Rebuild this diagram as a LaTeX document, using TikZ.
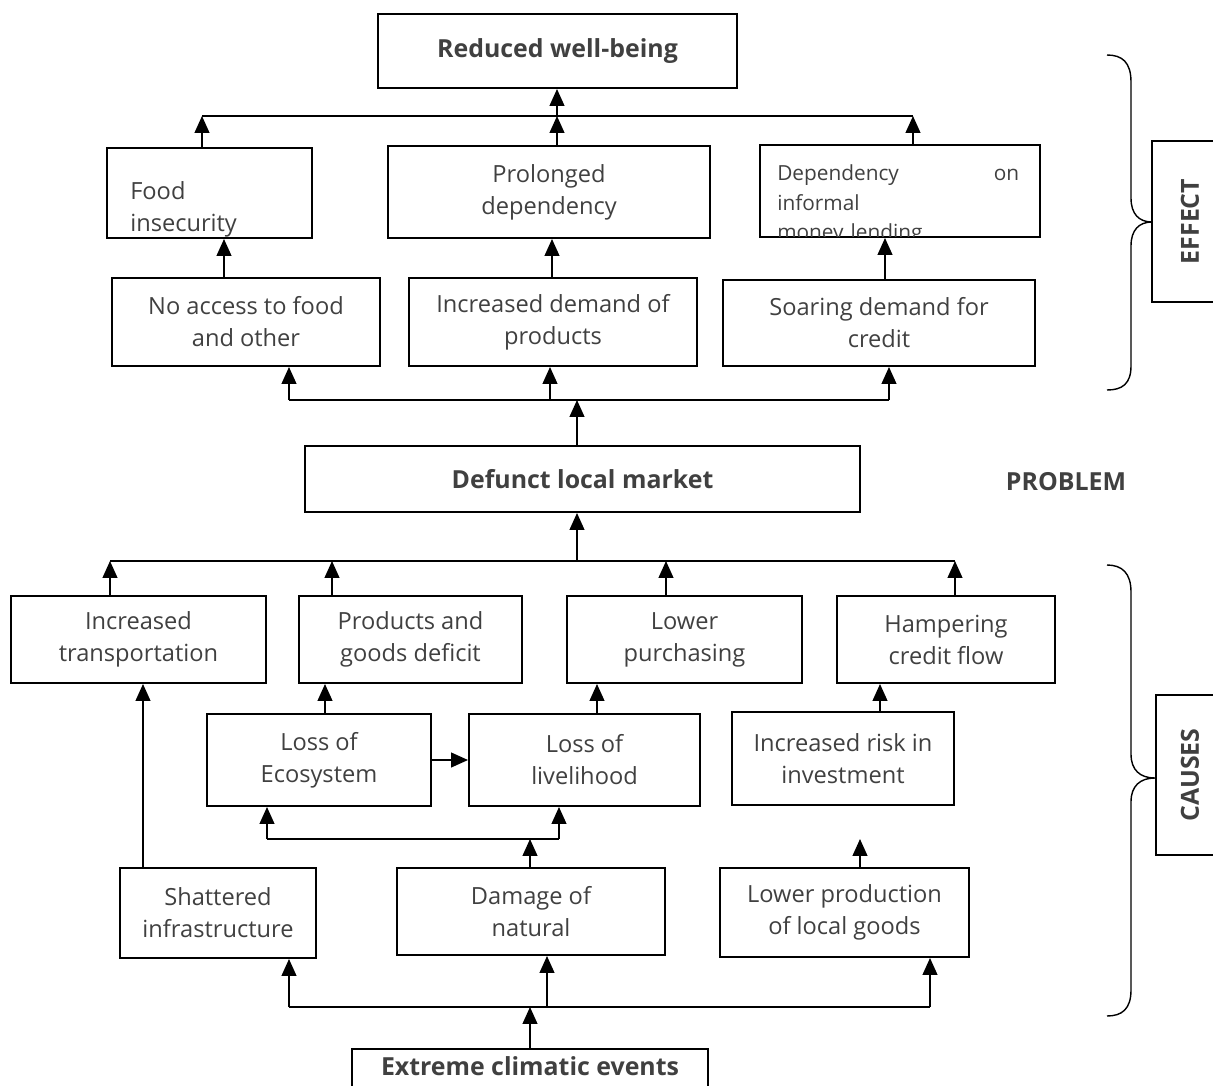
\documentclass[tikz,border=0pt]{standalone}
\usepackage{fontspec}
\setmainfont{Open Sans}
\usetikzlibrary{arrows.meta}
\definecolor{inkgray}{HTML}{404040}
\newcommand{\ux}{0.025cm}

\begin{document}
\begin{tikzpicture}[x=0.025cm, y=-0.025cm]
    \tikzstyle{box}=[draw=black, line width=1.4pt, text=inkgray, align=center, inner sep=0pt, font=\fontsize{16.8}{22.7}\selectfont]
    \tikzstyle{title-box}=[box, font=\fontsize{17.7}{22.7}\selectfont\bfseries]
    \tikzstyle{side-box}=[title-box, rotate=90]
    \tikzstyle{loose-text}=[text=inkgray, align=left, anchor=west, inner sep=0pt]
    \tikzstyle{flow}=[-{Triangle[length=12pt, width=10.5pt]}, line width=1.2pt]
    \tikzstyle{bus}=[line width=1.2pt]
    \tikzstyle{brace}=[line width=1pt]
    % \draw[help lines, step=50] (0,0) grid (1213,1086);
    \useasboundingbox (0,0) rectangle (1213,1086);

    % effects
    \node[title-box, minimum width=359*\ux, minimum height=74*\ux] (wellbeing) at (557.5,51) {Reduced well-being};
    \node[box, minimum width=205*\ux, minimum height=90*\ux] (food) at (209.5,193) {};
    \node[box, minimum width=322*\ux, minimum height=92*\ux] (prolonged) at (549,192) {Prolonged\\dependency};
    \node[box, minimum width=280*\ux, minimum height=92*\ux] (lending) at (900,191) {};
    \begin{scope}
        \clip (food.north west) rectangle ([yshift=1pt]food.south east);
        \node[loose-text, font=\fontsize{16.8}{22.7}\selectfont] (food-text) at (130,209) {Food\\insecurity};
    \end{scope}
    \begin{scope}
        \clip (lending.north west) rectangle ([yshift=1pt]lending.south east);
        \node[loose-text, text width=172pt, font=\fontsize{14.8}{21}\selectfont] (lending-text) at (777,205) {Dependency\hfill on\\informal\\money lending};
    \end{scope}
    \node[box, minimum width=268*\ux, minimum height=88*\ux] (noaccess) at (246,322) {No access to food\\and other};
    \node[box, minimum width=288*\ux, minimum height=88*\ux] (demand) at (553,322) {Increased demand of\\products};
    \node[box, minimum width=312*\ux, minimum height=86*\ux] (credit) at (879,323) {Soaring demand for\\credit};

    % problem
    \node[title-box, minimum width=555*\ux, minimum height=66*\ux] (market) at (582.5,479) {Defunct local market};
    \node[title-box, draw=none] (problem) at (1066,482) {PROBLEM};

    % causes
    \node[box, minimum width=255*\ux, minimum height=87*\ux] (transport) at (138.5,639.5) {Increased\\transportation};
    \node[box, minimum width=223*\ux, minimum height=87*\ux] (deficit) at (410.5,639.5) {Products and\\goods deficit};
    \node[box, minimum width=235*\ux, minimum height=87*\ux] (purchasing) at (684.5,639.5) {Lower\\purchasing};
    \node[box, minimum width=218*\ux, minimum height=87*\ux] (creditflow) at (946,639.5) {Hampering\\credit flow};
    \node[box, minimum width=224*\ux, minimum height=92*\ux] (ecosystem) at (319,760) {Loss of\\Ecosystem};
    \node[box, minimum width=231*\ux, minimum height=92*\ux] (livelihood) at (584.5,760) {Loss of\\livelihood};
    \node[box, minimum width=222*\ux, minimum height=93*\ux] (risk) at (843,758.5) {Increased risk in\\investment};
    \node[box, minimum width=196*\ux, minimum height=90*\ux] (infra) at (218,913) {Shattered\\infrastructure};
    \node[box, minimum width=268*\ux, minimum height=87*\ux] (damage) at (531,911.5) {Damage of\\natural};
    \node[box, minimum width=249*\ux, minimum height=89*\ux] (production) at (844.5,912.5) {Lower production\\of local goods};
    \node[title-box, minimum width=356*\ux, minimum height=62*\ux] (climate) at (530,1080) {};
    \node[title-box, draw=none] (climate-text) at (530,1066) {Extreme climatic events};

    % side labels
    \node[side-box, minimum width=161*\ux, minimum height=76*\ux] (effect) at (1190,221.5) {EFFECT};
    \node[side-box, minimum width=160*\ux, minimum height=68*\ux] (causes) at (1190,775) {CAUSES};
    \draw[brace] (1107,55) .. controls (1122,55) and (1131,62) .. (1131,82) -- (1131,198)
        .. controls (1131,214) and (1139,222) .. (1152,222)
        .. controls (1139,222) and (1131,230) .. (1131,246) -- (1131,366)
        .. controls (1131,384) and (1122,390) .. (1107,390);
    \draw[brace] (1107,565) .. controls (1122,565) and (1131,573) .. (1131,592) -- (1131,754)
        .. controls (1131,770) and (1140,778) .. (1155,778)
        .. controls (1140,778) and (1131,786) .. (1131,802) -- (1131,990)
        .. controls (1131,1009) and (1122,1016) .. (1107,1016);

    % junctions
    \coordinate (e1) at (202,116);
    \coordinate (e2) at (557,116);
    \coordinate (e3) at (913,116);
    \coordinate (m0) at (577,400);
    \coordinate (m1) at (289,400);
    \coordinate (m2) at (550,400);
    \coordinate (m3) at (889,400);
    \coordinate (k0) at (577,561);
    \coordinate (k1) at (110,561);
    \coordinate (k2) at (332,561);
    \coordinate (k3) at (666,561);
    \coordinate (k4) at (955,561);
    \coordinate (b0) at (530,839);
    \coordinate (b1) at (267,839);
    \coordinate (b2) at (559,839);
    \coordinate (prodtip) at (860,839);
    \coordinate (r0) at (530,1007);
    \coordinate (r1) at (289,1007);
    \coordinate (r2) at (547,1007);
    \coordinate (r3) at (930,1007);

    \draw[flow] (food.north -| e1) -- (e1);
    \draw[flow] (prolonged.north -| e2) -- (e2);
    \draw[flow] (lending.north -| e3) -- (e3);
    \draw[bus] (e1) -- (e3);
    \draw[flow] (e2) -- (wellbeing.south -| e2);

    \draw[flow] (noaccess.north -| 224,0) -- (food.south -| 224,0);
    \draw[flow] (demand.north -| 552,0) -- (prolonged.south -| 552,0);
    \draw[flow] (credit.north -| 885,0) -- (lending.south -| 885,0);

    \draw[flow] (market.north -| m0) -- (m0);
    \draw[bus] (m1) -- (m3);
    \draw[flow] (m1) -- (noaccess.south -| m1);
    \draw[flow] (m2) -- (demand.south -| m2);
    \draw[flow] (m3) -- (credit.south -| m3);

    \draw[flow] (transport.north -| k1) -- (k1);
    \draw[flow] (deficit.north -| k2) -- (k2);
    \draw[flow] (purchasing.north -| k3) -- (k3);
    \draw[flow] (creditflow.north -| k4) -- (k4);
    \draw[bus] (k1) -- (k4);
    \draw[flow] (k0) -- (market.south -| k0);

    \draw[flow] (ecosystem.north -| 325,0) -- (deficit.south -| 325,0);
    \draw[flow] (livelihood.north -| 597,0) -- (purchasing.south -| 597,0);
    \draw[flow] (risk.north -| 880,0) -- (creditflow.south -| 880,0);
    \draw[flow] (ecosystem.east) -- (livelihood.west);

    \draw[flow] (damage.north -| b0) -- (b0);
    \draw[bus] (b1) -- (b2);
    \draw[flow] (b1) -- (ecosystem.south -| b1);
    \draw[flow] (b2) -- (livelihood.south -| b2);
    \draw[flow] (production.north -| prodtip) -- (prodtip);
    \draw[flow] (infra.north -| 143,0) -- (transport.south -| 143,0);

    \draw[flow] (climate.north -| r0) -- (r0);
    \draw[bus] (r1) -- (r3);
    \draw[flow] (r1) -- (infra.south -| r1);
    \draw[flow] (r2) -- (damage.south -| r2);
    \draw[flow] (r3) -- (production.south -| r3);
\end{tikzpicture}
\end{document}
